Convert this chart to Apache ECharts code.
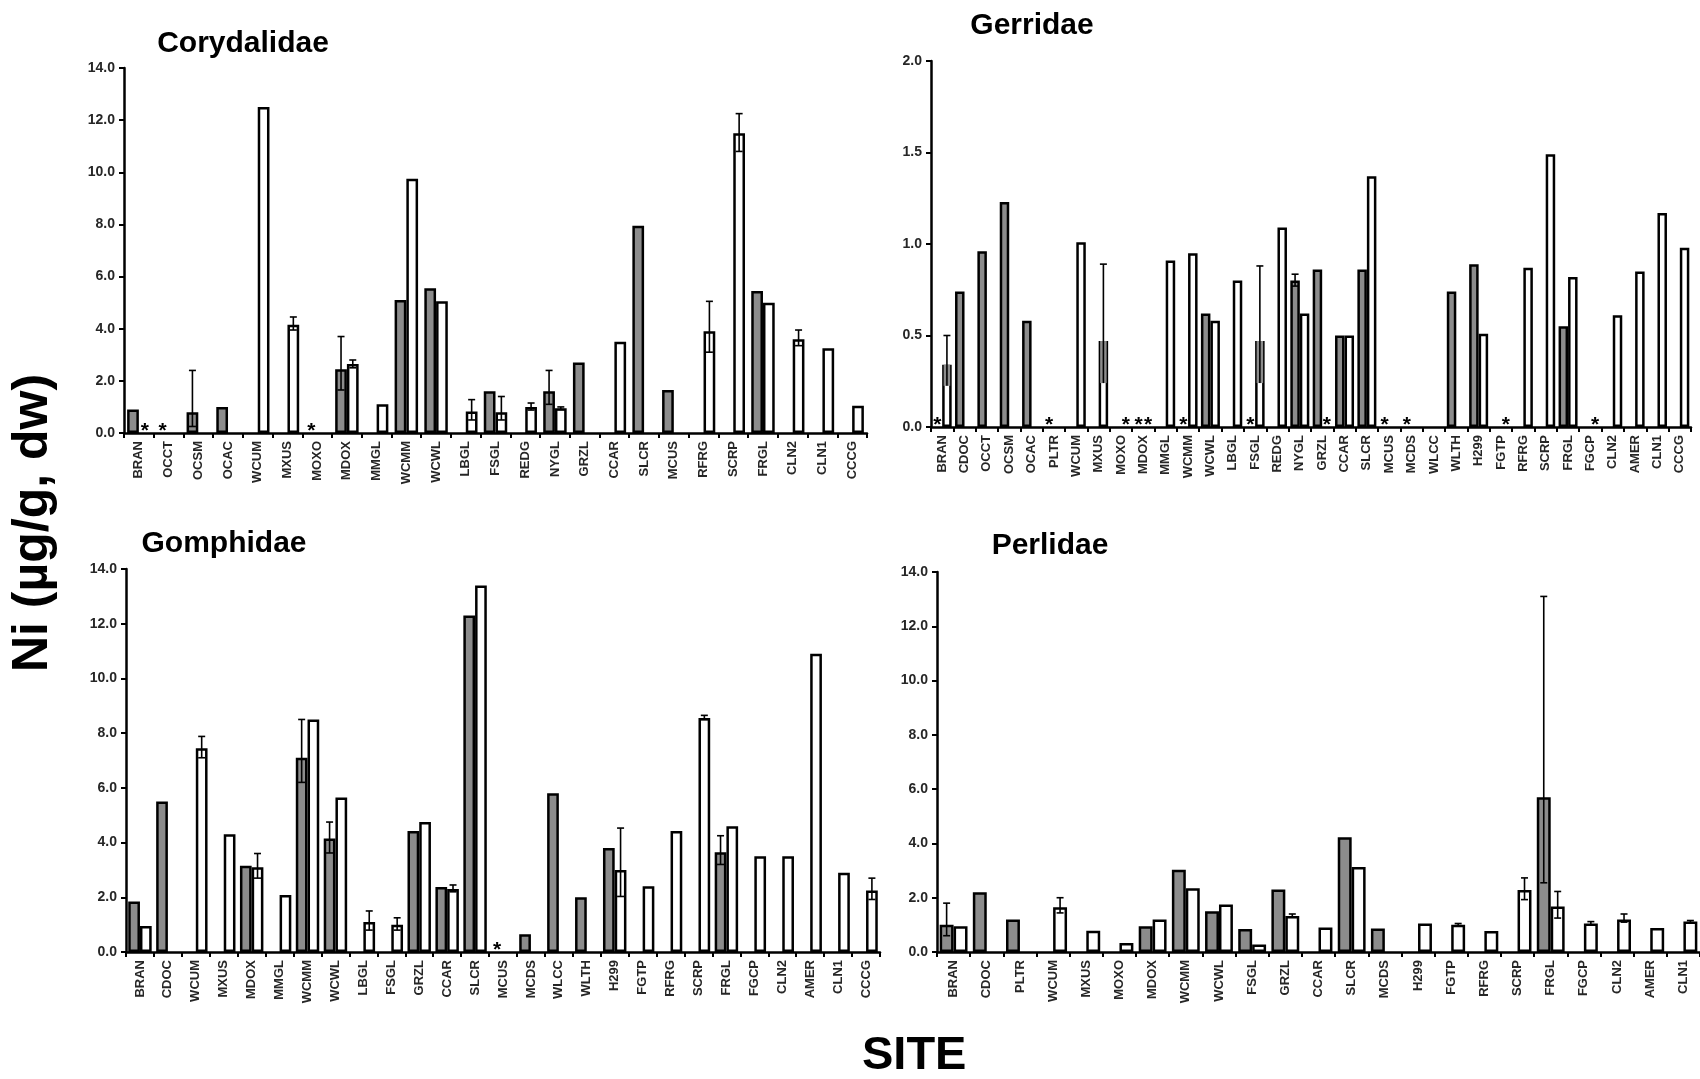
<!DOCTYPE html>
<html>
<head>
<meta charset="utf-8">
<script src="https://cdn.jsdelivr.net/npm/echarts@6/dist/echarts.min.js"></script>
<style>
html,body{margin:0;padding:0;background:#fff;}
#chart{width:1700px;height:1079px;}
</style>
</head>
<body>
<div id="chart"></div>
<script>
// ---------------- DATA ----------------
// '*' = asterisk marker (not detected), null = not sampled
const CORY_CATS = ['BRAN','OCCT','OCSM','OCAC','WCUM','MXUS','MOXO','MDOX','MMGL','WCMM','WCWL','LBGL','FSGL','REDG','NYGL','GRZL','CCAR','SLCR','MCUS','RFRG','SCRP','FRGL','CLN2','CLN1','CCCG'];
const CORY_GRAY  = [0.9,'*',0.8,1.0,null,null,'*',2.45,null,5.1,5.55,null,1.6,null,1.6,2.7,null,7.95,1.65,null,null,5.45,null,null,null];
const CORY_WHITE = ['*',null,null,null,12.5,4.15,null,2.65,1.1,9.75,5.05,0.82,0.8,1.0,0.95,null,3.5,null,null,3.9,11.5,5.0,3.6,3.25,1.05];
const CORY_GRAY_ERR  = [['OCSM',0.25,2.4],['MDOX',1.65,3.7],['NYGL',1.1,2.4]];
const CORY_WHITE_ERR = [['MXUS',3.95,4.45],['MDOX',2.5,2.8],['LBGL',0.5,1.28],['FSGL',0.5,1.4],['REDG',0.88,1.15],['NYGL',0.9,1.0],['RFRG',3.1,5.05],['SCRP',10.8,12.25],['CLN2',3.35,3.95]];

const GERR_CATS = ['BRAN','CDOC','OCCT','OCSM','OCAC','PLTR','WCUM','MXUS','MOXO','MDOX','MMGL','WCMM','WCWL','LBGL','FSGL','REDG','NYGL','GRZL','CCAR','SLCR','MCUS','MCDS','WLCC','WLTH','H299','FGTP','RFRG','SCRP','FRGL','FGCP','CLN2','AMER','CLN1','CCCG'];
const GERR_GRAY  = ['*',0.74,0.96,1.23,0.58,'*',null,null,null,'*',null,'*',0.62,null,'*',null,0.8,0.86,0.5,0.86,'*','*',null,0.74,0.89,null,null,null,0.55,null,null,null,null,null];
const GERR_WHITE = [0.34,null,null,null,null,null,1.01,0.47,'*','*',0.91,0.95,0.58,0.8,0.47,1.09,0.62,'*',0.5,1.37,null,null,null,null,0.51,'*',0.87,1.49,0.82,'*',0.61,0.85,1.17,0.98];
const GERR_GRAY_ERR  = [['NYGL',0.77,0.835]];
const GERR_WHITE_ERR = [['BRAN',0.225,0.5],['MXUS',0.24,0.89],['FSGL',0.24,0.88]];

const GOMP_CATS = ['BRAN','CDOC','WCUM','MXUS','MDOX','MMGL','WCMM','WCWL','LBGL','FSGL','GRZL','CCAR','SLCR','MCUS','MCDS','WLCC','WLTH','H299','FGTP','RFRG','SCRP','FRGL','FGCP','CLN2','AMER','CLN1','CCCG'];
const GOMP_GRAY  = [1.85,5.5,null,null,3.15,null,7.1,4.15,null,null,4.42,2.38,12.3,'*',0.65,5.8,2.0,3.8,null,null,null,3.65,null,null,null,null,null];
const GOMP_WHITE = [0.95,null,7.45,4.3,3.1,2.08,8.5,5.65,1.1,1.0,4.75,2.3,13.4,null,null,null,null,3.0,2.4,4.42,8.55,4.6,3.5,3.5,10.9,2.9,2.25];
const GOMP_GRAY_ERR  = [['WCMM',6.2,8.5],['WCWL',3.62,4.75],['FRGL',3.2,4.25]];
const GOMP_WHITE_ERR = [['WCUM',7.1,7.88],['MDOX',2.7,3.6],['LBGL',0.8,1.5],['FSGL',0.8,1.25],['CCAR',2.2,2.45],['H299',2.03,4.53],['SCRP',8.5,8.65],['CCCG',1.92,2.7]];

const PERL_CATS = ['BRAN','CDOC','PLTR','WCUM','MXUS','MOXO','MDOX','WCMM','WCWL','FSGL','GRZL','CCAR','SLCR','MCDS','H299','FGTP','RFRG','SCRP','FRGL','FGCP','CLN2','AMER','CLN1'];
const PERL_GRAY  = [1.0,2.2,1.2,null,null,null,0.95,3.03,1.5,0.85,2.3,null,4.23,0.87,null,null,null,null,5.7,null,null,null,null];
const PERL_WHITE = [0.95,null,null,1.65,0.78,0.33,1.2,2.35,1.75,0.28,1.33,0.9,3.13,null,1.05,1.0,0.77,2.28,1.68,1.05,1.2,0.88,1.12];
const PERL_GRAY_ERR  = [['BRAN',0.6,1.8],['FRGL',2.55,13.1]];
const PERL_WHITE_ERR = [['WCUM',1.44,2.0],['GRZL',1.28,1.4],['FGTP',0.97,1.05],['SCRP',1.93,2.73],['FRGL',1.25,2.23],['FGCP',1.0,1.12],['CLN2',1.1,1.4],['CLN1',1.08,1.16]];

const Y_TITLE = 'Ni (µg/g, dw)';
const X_TITLE = 'SITE';

// ---------------- LAYOUT / STYLE ----------------
const GRAY = '#8c8c8c';
const FONT = 'Liberation Sans, Arial, sans-serif';

const panels = [
  {title:'Corydalidae', cats:CORY_CATS, gray:CORY_GRAY, white:CORY_WHITE, gErr:CORY_GRAY_ERR, wErr:CORY_WHITE_ERR,
   max:14, interval:2, grid:{left:124, top:68, width:743, height:365}, gap:0.21, tpos:[243,44], box:false},
  {title:'Gerridae', cats:GERR_CATS, gray:GERR_GRAY, white:GERR_WHITE, gErr:GERR_GRAY_ERR, wErr:GERR_WHITE_ERR,
   max:2, interval:0.5, grid:{left:931, top:61, width:760, height:366}, gap:0.15, tpos:[1032,26], box:true},
  {title:'Gomphidae', cats:GOMP_CATS, gray:GOMP_GRAY, white:GOMP_WHITE, gErr:GOMP_GRAY_ERR, wErr:GOMP_WHITE_ERR,
   max:14, interval:2, grid:{left:126, top:569, width:754, height:383}, gap:0.16, tpos:[224,544], box:false},
  {title:'Perlidae', cats:PERL_CATS, gray:PERL_GRAY, white:PERL_WHITE, gErr:PERL_GRAY_ERR, wErr:PERL_WHITE_ERR,
   max:14, interval:2, grid:{left:937, top:572, width:767, height:380}, gap:0.16, tpos:[1050,546], box:false}
];

function barData(arr){ return arr.map(v => (typeof v === 'number') ? v : null); }

function errRender(side, gap, box){
  return function(params, api){
    const cat = api.value(0), lo = api.value(1), hi = api.value(2), val = api.value(3);
    const catW = api.size([1,0])[0];
    const bw = catW * (1 - gap) / 2;
    const x = api.coord([cat, 0])[0] + (side === 0 ? -bw/2 : bw/2);
    const yLo = api.coord([cat, lo])[1], yHi = api.coord([cat, hi])[1], yV = api.coord([cat, val])[1];
    const c = 3.5;
    const ls = {stroke:'#000', lineWidth:1.6};
    const ch = [];
    if (box) {
      ch.push({type:'rect', shape:{x:x - bw/2 + 1.5, y:yV, width:bw - 3, height:yLo - yV}, style:{fill:GRAY}});
    }
    ch.push({type:'line', shape:{x1:x, y1:yLo, x2:x, y2:yHi}, style:ls});
    ch.push({type:'line', shape:{x1:x-c, y1:yHi, x2:x+c, y2:yHi}, style:ls});
    if (!box) ch.push({type:'line', shape:{x1:x-c, y1:yLo, x2:x+c, y2:yLo}, style:ls});
    return {type:'group', children:ch};
  };
}

function starRender(gap){
  return function(params, api){
    const cat = api.value(0), side = api.value(1);
    const catW = api.size([1,0])[0];
    const bw = catW * (1 - gap) / 2;
    const p = api.coord([cat, 0]);
    const x = p[0] + (side === 0 ? -bw/2 : bw/2);
    return {type:'text', x:x, y:p[1] - 2, style:{text:'*', fill:'#000', fontSize:21, fontWeight:'bold', fontFamily:FONT, align:'center', verticalAlign:'middle'}};
  };
}

const grids = [], xAxes = [], yAxes = [], series = [], graphics = [];

panels.forEach((p, i) => {
  grids.push(Object.assign({containLabel:false}, p.grid));
  xAxes.push({
    type:'category', gridIndex:i, data:p.cats,
    axisLine:{lineStyle:{color:'#000', width:2.5}},
    axisTick:{show:true, length:5, lineStyle:{color:'#000', width:2}},
    axisLabel:{rotate:90, interval:0, margin:8, color:'#262626', fontWeight:'bold', fontSize:13, fontFamily:FONT},
    splitLine:{show:false}
  });
  yAxes.push({
    type:'value', gridIndex:i, min:0, max:p.max, interval:p.interval,
    axisLine:{show:true, lineStyle:{color:'#000', width:2.5}},
    axisTick:{show:true, length:5, lineStyle:{color:'#000', width:2}},
    axisLabel:{formatter:v => v.toFixed(1), color:'#262626', fontWeight:'bold', fontSize:14, fontFamily:FONT, margin:9},
    splitLine:{show:false}
  });
  const common = {type:'bar', xAxisIndex:i, yAxisIndex:i, barGap:'0%', barCategoryGap:(p.gap*100)+'%', animation:false};
  series.push(Object.assign({}, common, {name:p.title+' gray', data:barData(p.gray),
    itemStyle:{color:GRAY, borderColor:'#000', borderWidth:2.5}}));
  series.push(Object.assign({}, common, {name:p.title+' white', data:barData(p.white),
    itemStyle:{color:'#fff', borderColor:'#000', borderWidth:2.5}}));
  const idx = n => p.cats.indexOf(n);
  const gE = p.gErr.map(e => [idx(e[0]), e[1], e[2], p.gray[idx(e[0])]]);
  const wE = p.wErr.map(e => [idx(e[0]), e[1], e[2], p.white[idx(e[0])]]);
  series.push({type:'custom', xAxisIndex:i, yAxisIndex:i, renderItem:errRender(0, p.gap, false), data:gE, encode:{x:0, y:[1,2]}, z:5, animation:false});
  series.push({type:'custom', xAxisIndex:i, yAxisIndex:i, renderItem:errRender(1, p.gap, p.box), data:wE, encode:{x:0, y:[1,2]}, z:5, animation:false});
  const stars = [];
  p.gray.forEach((v, k) => { if (v === '*') stars.push([k, 0]); });
  p.white.forEach((v, k) => { if (v === '*') stars.push([k, 1]); });
  series.push({type:'custom', xAxisIndex:i, yAxisIndex:i, renderItem:starRender(p.gap), data:stars, encode:{x:0, y:1}, z:6, animation:false});
  graphics.push({type:'text', x:p.tpos[0], y:p.tpos[1], style:{text:p.title, fill:'#000', fontSize:30, fontWeight:'bold', fontFamily:FONT, align:'center', verticalAlign:'middle'}});
});

graphics.push({type:'text', x:33, y:523, rotation:Math.PI/2, style:{text:Y_TITLE, fill:'#000', fontSize:50, fontWeight:'bold', fontFamily:FONT, align:'center', verticalAlign:'middle'}});

const chart = echarts.init(document.getElementById('chart'), null, {renderer:'canvas'});
chart.setOption({
  backgroundColor:'#fff',
  animation:false,
  title:{text:X_TITLE, left:862, top:1033, padding:0,
         textStyle:{fontSize:47, fontWeight:'bold', fontFamily:FONT, color:'#000', lineHeight:47}},
  grid:grids, xAxis:xAxes, yAxis:yAxes, series:series, graphic:graphics
});
</script>
</body>
</html>
